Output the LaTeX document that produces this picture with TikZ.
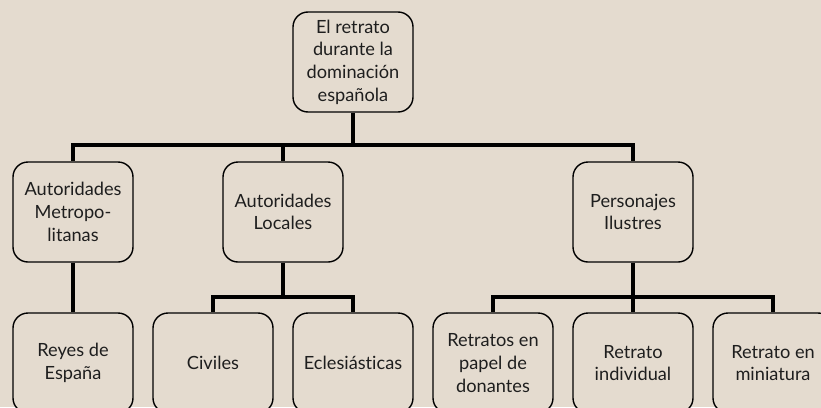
\documentclass[tikz,border=0pt]{standalone}
\usepackage{fontspec}
\setmainfont[Ligatures={NoCommon,NoRare}]{Lato}
\usetikzlibrary{calc}
\definecolor{bg}{HTML}{E4DBCF}
\definecolor{txt}{HTML}{1E1E1E}
\tikzset{
  box/.style={draw=black, line width=1.4pt, rounded corners=15pt, fill=bg,
    minimum width=120pt, minimum height=100pt, inner sep=2pt, align=center,
    text=txt, font=\fontsize{18.2}{22.7}\selectfont},
  conn/.style={draw=black, line width=4pt, line join=miter}
}
\begin{document}
\begin{tikzpicture}[x=1pt,y=1pt]
\fill[bg] (0,0) rectangle (821,-407);
\useasboundingbox (0,0) rectangle (821,-407);
\node[box] (top) at (353,-62) {El retrato\\durante la\\dominación\\española};
\node[box] (metro) at (73,-212) {Autoridades\\Metropo-\\litanas};
\node[box] (loc) at (283,-212) {Autoridades\\Locales};
\node[box] (pers) at (633,-212) {Personajes\\Ilustres};
\node[box] (reyes) at (73,-363) {Reyes de\\España};
\node[box] (civ) at (213,-363) {Civiles};
\node[box] (ecl) at (353,-363) {Eclesiásticas};
\node[box] (pap) at (493,-363) {Retratos en\\papel de\\donantes};
\node[box] (ind) at (633,-363) {Retrato\\individual};
\node[box] (min) at (773,-363) {Retrato en\\miniatura};
\coordinate (bar1) at (0,-145);
\coordinate (bar2) at (0,-297);
\draw[conn] (top.south) -- (top.south |- bar1) -| (metro.north);
\draw[conn] (top.south |- bar1) -| (pers.north);
\draw[conn] (loc.north |- bar1) -- (loc.north);
\draw[conn] (metro.south) -- (reyes.north);
\draw[conn] (loc.south) -- (loc.south |- bar2) -| (civ.north);
\draw[conn] (loc.south |- bar2) -| (ecl.north);
\draw[conn] (pers.south) -- (pers.south |- bar2) -| (pap.north);
\draw[conn] (pers.south |- bar2) -| (min.north);
\draw[conn] (ind.north |- bar2) -- (ind.north);
\end{tikzpicture}
\end{document}
